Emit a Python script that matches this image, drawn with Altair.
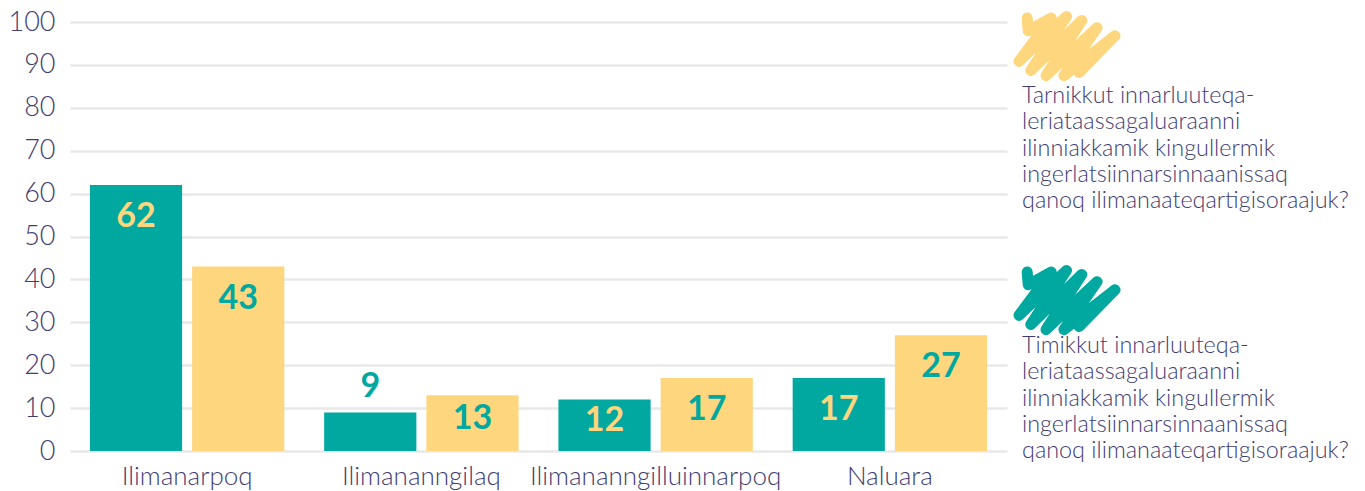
import altair as alt
import pandas as pd

categories = ["Ilimanarpoq", "Ilimananngilaq", "Ilimananngilluinnarpoq", "Naluara"]
series_keys = ["Timikkut", "Tarnikkut"]
teal_values = [62, 9, 12, 17]
yellow_values = [43, 13, 17, 27]
legend_order = ["Tarnikkut", "Timikkut"]
legend_texts = [
    "Tarnikkut innarluuteqa-\nleriataassagaluaraanni\nilinniakkamik kingullermik\ningerlatsiinnarsinnaanissaq\nqanoq ilimanaateqartigisoraajuk?",
    "Timikkut innarluuteqa-\nleriataassagaluaraanni\nilinniakkamik kingullermik\ningerlatsiinnarsinnaanissaq\nqanoq ilimanaateqartigisoraajuk?",
]
y_ticks = list(range(0, 101, 10))

TEAL = "#00a8a0"
YELLOW = "#fdd67e"
NAVY = "#3f3d72"
GRID = "#e8e8e8"
FONT = "Lato"

rows = []
for c, t, y in zip(categories, teal_values, yellow_values):
    rows.append({"category": c, "series": "Timikkut", "value": t})
    rows.append({"category": c, "series": "Tarnikkut", "value": y})
df = pd.DataFrame(rows)

leg_df = pd.DataFrame({"series": legend_order, "text": legend_texts})

color_scale = alt.Scale(domain=series_keys, range=[TEAL, YELLOW])

x_enc = alt.X(
    "category:N",
    sort=categories,
    scale=alt.Scale(paddingInner=0.17, paddingOuter=0.085),
    axis=alt.Axis(
        title=None, labelAngle=0, labelFontSize=26, labelColor=NAVY, labelFont=FONT,
        labelFontWeight=300, labelPadding=12, domain=False, ticks=False, grid=False,
        labelLimit=0,
    ),
)
xoff_enc = alt.XOffset("series:N", sort=series_keys, scale=alt.Scale(paddingInner=0.098, paddingOuter=0))
y_enc = alt.Y(
    "value:Q",
    scale=alt.Scale(domain=[0, 100], nice=False),
    axis=alt.Axis(
        values=y_ticks, title=None, domain=False, ticks=False, gridColor=GRID, gridWidth=2.5,
        labelFontSize=27, labelColor=NAVY, labelFont=FONT, labelFontWeight=300,
        labelPadding=15,
    ),
)

bars = alt.Chart(df).mark_bar().encode(
    x=x_enc, xOffset=xoff_enc, y=y_enc,
    color=alt.Color("series:N", scale=color_scale, legend=None),
)

labels = alt.Chart(df).transform_calculate(
    pos="datum.value >= 15 ? datum.value - 7.5 : (datum.value >= 10 ? datum.value / 2 + 1 : datum.value + 6)",
    lcolor=f"datum.series == 'Timikkut' ? (datum.value < 10 ? '{TEAL}' : '{YELLOW}') : (datum.value < 10 ? '{YELLOW}' : '{TEAL}')",
).mark_text(fontSize=34, fontWeight=700, font=FONT, baseline="middle", align="center").encode(
    x=alt.X("category:N", sort=categories),
    xOffset=alt.XOffset("series:N", sort=series_keys),
    y=alt.Y("pos:Q"),
    text=alt.Text("value:Q"),
    color=alt.Color("lcolor:N", scale=None),
)

SCRIBBLE = (
    "M -0.82,-0.55 L -0.8,-0.3 L -0.35,-0.55 L -0.98,0.3 L -0.05,-0.58 L -0.75,0.48 "
    "L 0.25,-0.5 L -0.45,0.58 L 0.55,-0.36 L -0.1,0.58 L 0.9,-0.2 L 0.2,0.52"
)

scribbles = alt.Chart(leg_df).mark_point(
    shape=SCRIBBLE, size=10400, filled=False, strokeWidth=11, strokeCap="round",
    strokeJoin="round", opacity=1,
).encode(
    x=alt.value(999),
    y=alt.Y("series:N", sort=legend_order,
            scale=alt.Scale(type="point", domain=legend_order, range=[24, 278], padding=0), axis=None),
    color=alt.Color("series:N", scale=color_scale, legend=None),
)

leg_text = alt.Chart(leg_df).mark_text(
    align="left", baseline="top", lineBreak="\n", fontSize=23.4, lineHeight=26.3,
    font=FONT, fontWeight=300, color=NAVY,
).encode(
    x=alt.value(952),
    y=alt.Y("series:N", sort=legend_order,
            scale=alt.Scale(type="point", domain=legend_order, range=[63, 313], padding=0), axis=None),
    text="text:N",
)

main = alt.layer(bars, labels).resolve_scale(color="independent")
legend = alt.layer(scribbles, leg_text).resolve_scale(y="independent")

chart = alt.layer(main, legend).resolve_scale(y="independent", color="independent").properties(
    width=937, height=429,
    autosize=alt.AutoSizeParams(type="none"),
    padding={"left": 62, "top": 14, "right": 345, "bottom": 40},
).configure(font=FONT).configure_view(strokeWidth=0, stroke="transparent").configure_axis(
    domain=False, ticks=False
)

chart.save("out.html", embed_options={"renderer": "svg", "actions": False})
